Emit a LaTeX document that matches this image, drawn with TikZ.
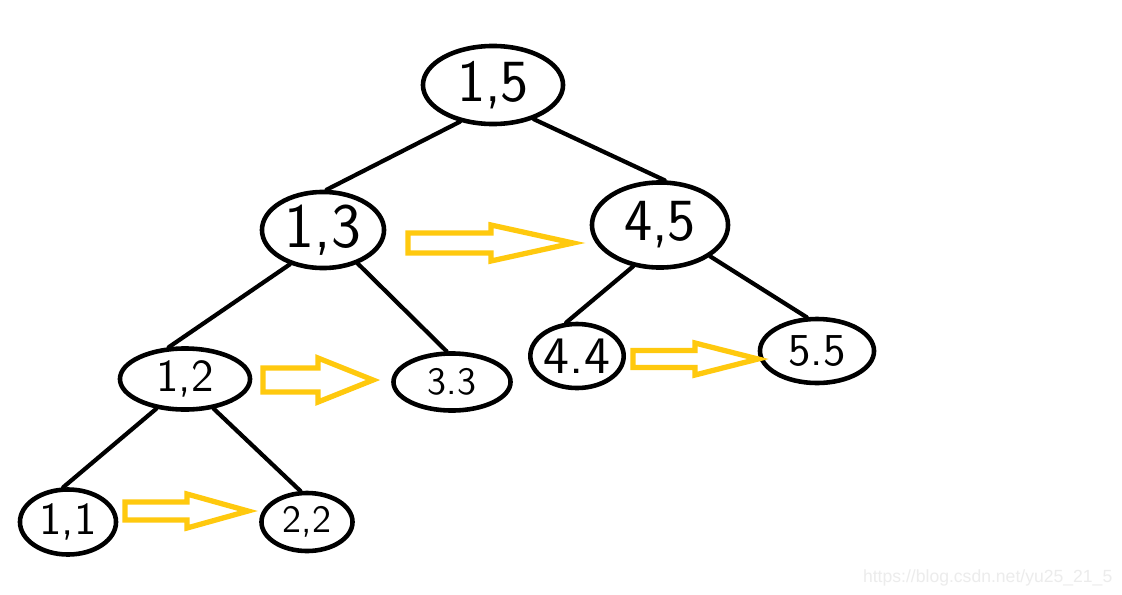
\documentclass[tikz,border=0pt]{standalone}
\usepackage{fontspec}
\usepackage{xcolor}
\usepackage{tikz}
\usetikzlibrary{shapes.geometric}
\newfontfamily\markfont{Liberation Sans}
\definecolor{arrowgold}{RGB}{255,201,14}
\definecolor{markgray}{RGB}{236,236,236}

\begin{document}
\begin{tikzpicture}[x=0.01cm,y=-0.01cm]
\tikzset{tnode/.style={ellipse,draw,line width=1.3pt,inner sep=0pt}}
\tikzset{edge/.style={line width=1.2pt,line cap=round}}
\tikzset{hollow/.style={draw=arrowgold,line width=1.5pt,line join=miter}}
% canvas
\path[fill=white] (0,0) rectangle (1122,594);
% interval nodes
\foreach \nm/\px/\py/\w/\h/\fs/\lab in {
  n15/493/85/1.40/0.78/17/{1,5},
  n13/323/230/1.22/0.76/18/{1,3},
  n45/660/225/1.36/0.85/17/{4,5},
  n12/185/379/1.30/0.61/13/{1,2},
  n33/452/382/1.17/0.57/11/{3.3},
  n44/577/356/0.84/0.64/15/{4.4},
  n55/817/351/1.14/0.64/13/{5.5},
  n11/68/522/0.96/0.65/13/{1,1},
  n22/307/522/0.91/0.58/11/{2,2}} {
  \node[tnode,minimum width=\w cm,minimum height=\h cm,
        font=\fontsize{\fs}{\fs}\selectfont\sffamily] (\nm) at (\px,\py) {\lab};
}
% tree edges
\foreach \a/\sa/\b/\sb in {n15/228/n13/85, n15/320/n45/84,
  n13/226/n12/117, n13/316/n33/100, n45/237/n44/108, n45/328/n55/107,
  n12/226/n11/98, n12/314/n22/102} {
  \draw[edge] (\a.\sa) -- (\b.\sb);
}
% block arrows: tail x / head base x / tip x / mid y / shaft half / head half
\foreach \xa/\xb/\xt/\yc/\s/\hh in {408/491/573/243/10/18, 263/318/373/380/12/22,
  633/695/758/359/8.5/16, 125/187/248/511/9/17} {
  \draw[hollow] (\xa,\yc-\s) -- (\xb,\yc-\s) -- (\xb,\yc-\hh) -- (\xt,\yc)
    -- (\xb,\yc+\hh) -- (\xb,\yc+\s) -- (\xa,\yc+\s) -- cycle;
}
% watermark
\node[anchor=base east,inner sep=0pt,text=markgray,font=\fontsize{5}{6}\selectfont\markfont]
  (mark) at (1113,582) {https://blog.csdn.net/yu25\_21\_5};
\end{tikzpicture}
\end{document}
